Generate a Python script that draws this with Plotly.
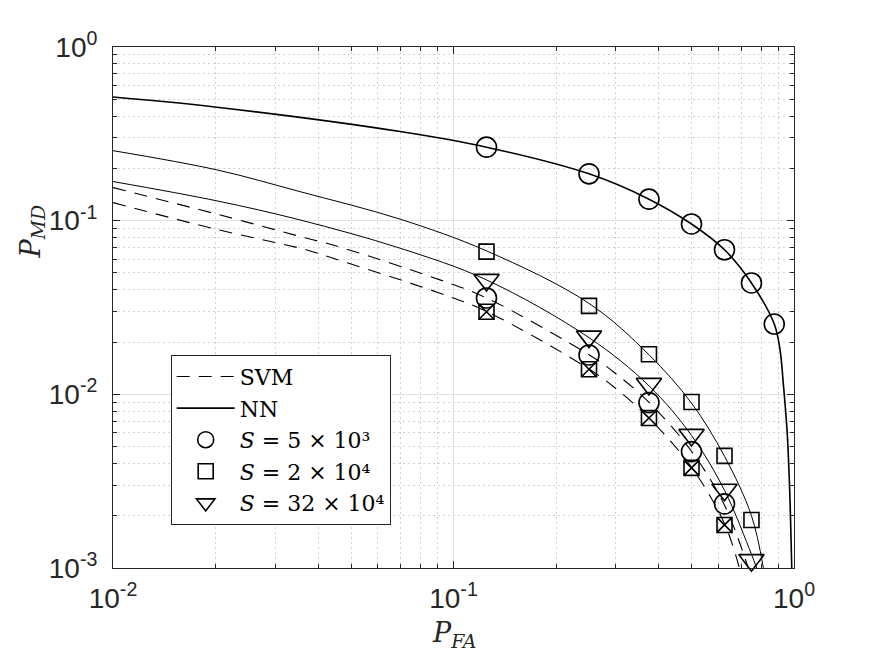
import plotly.graph_objects as go

# ---------------- data ----------------
# NN curves (solid)
nn1_x = [0.01, 0.0202, 0.0697, 0.125, 0.25, 0.375, 0.5, 0.625, 0.75, 0.875, 0.91, 0.93, 0.955, 0.97, 0.985]
nn1_y = [0.515, 0.45, 0.326, 0.265, 0.186, 0.133, 0.0957, 0.068, 0.0438, 0.0254, 0.018, 0.0116, 0.006, 0.003, 0.001]

nn2_x = [0.01, 0.0202, 0.0354, 0.0697, 0.125, 0.25, 0.375, 0.5, 0.625, 0.75, 0.813]
nn2_y = [0.253, 0.196, 0.147, 0.102, 0.067, 0.0334, 0.0169, 0.0089, 0.0044, 0.0020, 0.001]

nn3_x = [0.01, 0.0202, 0.0354, 0.0697, 0.125, 0.25, 0.375, 0.5, 0.625, 0.75, 0.777]
nn3_y = [0.168, 0.130, 0.101, 0.0694, 0.0456, 0.0212, 0.0112, 0.0058, 0.0028, 0.0012, 0.001]

# SVM curves (dashed)
svm1_x = [0.01, 0.0202, 0.0371, 0.0443, 0.0913, 0.125, 0.25, 0.2946, 0.375, 0.5, 0.625, 0.734]
svm1_y = [0.155, 0.109, 0.0792, 0.0724, 0.0456, 0.0359, 0.0169, 0.0135, 0.0090, 0.0047, 0.0023, 0.001]

svm2_x = [0.01, 0.0202, 0.0371, 0.0443, 0.0913, 0.125, 0.25, 0.2946, 0.375, 0.5, 0.625, 0.691]
svm2_y = [0.127, 0.089, 0.0678, 0.0607, 0.0382, 0.030, 0.0140, 0.0111, 0.0073, 0.0038, 0.0018, 0.001]

# markers (simulation points)
mk_x = [0.125, 0.25, 0.375, 0.5, 0.625, 0.75, 0.875]
nn_s5e3 = [0.265, 0.186, 0.133, 0.0957, 0.068, 0.0438, 0.0254]
nn_s2e4 = [0.0663, 0.0323, 0.0170, 0.00904, 0.00442, 0.00189]
nn_s32e4 = [0.0456, 0.0215, 0.01148, 0.00584, 0.00282, 0.00111]
svm_s5e3 = [0.0359, 0.01686, 0.00896, 0.00468, 0.00234]
svm_s2e4 = [0.0299, 0.01394, 0.00731, 0.00377, 0.00177]

x_tickvals = [0.01, 0.1, 1]
x_ticktext = ["10<sup>-2</sup>", "10<sup>-1</sup>", "10<sup>0</sup>"]
y_tickvals = [0.001, 0.01, 0.1, 1]
y_ticktext = ["10<sup>-3</sup>", "10<sup>-2</sup>", "10<sup>-1</sup>", "10<sup>0</sup>"]

legend_names = ["SVM", "NN", "<i>S</i> = 5 × 10³", "<i>S</i> = 2 × 10⁴", "<i>S</i> = 32 × 10⁴"]

# ---------------- figure ----------------
BLACK = "#000000"
AX = "#262626"
DASH = "13px,9px"

fig = go.Figure()

fig.add_trace(go.Scatter(x=svm1_x, y=svm1_y, mode="lines", name=legend_names[0],
                         line=dict(color=BLACK, width=1.1, dash=DASH, shape="spline"),
                         showlegend=True))
fig.add_trace(go.Scatter(x=nn1_x, y=nn1_y, mode="lines", name=legend_names[1],
                         line=dict(color=BLACK, width=1.6, shape="spline"),
                         showlegend=True))
fig.add_trace(go.Scatter(x=svm2_x, y=svm2_y, mode="lines", showlegend=False,
                         line=dict(color=BLACK, width=1.1, dash=DASH, shape="spline")))
fig.add_trace(go.Scatter(x=nn2_x, y=nn2_y, mode="lines", showlegend=False,
                         line=dict(color=BLACK, width=1.0, shape="spline")))
fig.add_trace(go.Scatter(x=nn3_x, y=nn3_y, mode="lines", showlegend=False,
                         line=dict(color=BLACK, width=1.0, shape="spline")))

mk_line = dict(color=BLACK, width=1.6)
fig.add_trace(go.Scatter(x=mk_x[:len(nn_s5e3)], y=nn_s5e3, mode="markers",
                         name=legend_names[2], cliponaxis=False,
                         marker=dict(symbol="circle-open", size=20, color=BLACK, line=mk_line)))
fig.add_trace(go.Scatter(x=mk_x[:len(nn_s2e4)], y=nn_s2e4, mode="markers",
                         name=legend_names[3], cliponaxis=False,
                         marker=dict(symbol="square-open", size=15, color=BLACK, line=mk_line)))
fig.add_trace(go.Scatter(x=mk_x[:len(nn_s32e4)], y=nn_s32e4, mode="markers",
                         name=legend_names[4], cliponaxis=False,
                         marker=dict(symbol="triangle-down-open", size=22, color=BLACK, line=mk_line)))
fig.add_trace(go.Scatter(x=mk_x[:len(svm_s5e3)], y=svm_s5e3, mode="markers",
                         showlegend=False, cliponaxis=False,
                         marker=dict(symbol="circle-open", size=20, color=BLACK, line=mk_line)))
fig.add_trace(go.Scatter(x=mk_x[:len(svm_s2e4)], y=svm_s2e4, mode="markers",
                         showlegend=False, cliponaxis=False,
                         marker=dict(symbol="square-x-open", size=15, color=BLACK, line=mk_line)))

TICKFONT = dict(family="Liberation Sans", size=28, color=AX)

axis_common = dict(
    type="log",
    showline=True, linecolor=AX, linewidth=1, mirror="ticks",
    ticks="inside", ticklen=7, tickwidth=1, tickcolor=AX,
    showgrid=True, gridcolor="#e2e2e2", gridwidth=1,
    tickmode="array",
    minor=dict(ticks="inside", ticklen=4, tickcolor=AX, dtick="D1",
               showgrid=True, gridcolor="#d2d2d2", griddash="2px,3px", gridwidth=1),
    zeroline=False,
)

fig.update_xaxes(**axis_common, range=[-2, 0], tickvals=x_tickvals, ticktext=x_ticktext,
                 tickfont=TICKFONT, ticklabelstandoff=5)
fig.update_yaxes(**axis_common, range=[-3, 0], tickvals=y_tickvals, ticktext=y_ticktext,
                 tickfont=TICKFONT, ticklabelstandoff=9)

fig.add_annotation(text="<i>P</i><sub><i>FA</i></sub>", xref="paper", yref="paper",
                   x=0.5, y=-0.128, xanchor="center", yanchor="middle", showarrow=False,
                   font=dict(family="DejaVu Serif, serif", size=27, color=AX))
fig.add_annotation(text="<i>P</i><sub><i>MD</i></sub>", xref="paper", yref="paper",
                   x=-0.118, y=0.645, xanchor="center", yanchor="middle", showarrow=False,
                   textangle=-90,
                   font=dict(family="DejaVu Serif, serif", size=27, color=AX))

fig.update_layout(
    width=875, height=657,
    margin=dict(l=113, r=81, t=47, b=89),
    paper_bgcolor="white", plot_bgcolor="white",
    showlegend=True,
    legend=dict(x=0.0847, y=0.4094, xanchor="left", yanchor="top",
                bgcolor="white", bordercolor=AX, borderwidth=1,
                font=dict(family="DejaVu Serif, serif", size=22, color=BLACK),
                tracegroupgap=0, itemwidth=58),
)

fig.write_html("out.html")
